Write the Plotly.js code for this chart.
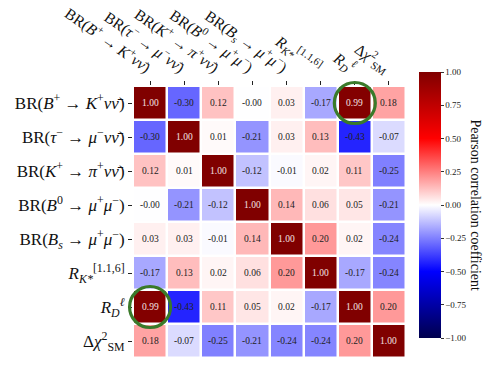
<!DOCTYPE html>
<html>
<head>
<meta charset="utf-8">
<script src="https://cdn.plot.ly/plotly-3.0.1.min.js"></script>
<style>
  html, body { margin: 0; padding: 0; background: #fff; }
  #chart { width: 486px; height: 380px; }
</style>
</head>
<body>
<div id="chart"></div>
<script>
// Observables, in matrix order
const observables = [
  'BR(<i>B</i><sup>+</sup> → <i>K</i><sup>+</sup><i>νν̄</i>)',
  'BR(<i>τ</i><sup>−</sup> → <i>μ</i><sup>−</sup><i>νν̄</i>)',
  'BR(<i>K</i><sup>+</sup> → <i>π</i><sup>+</sup><i>νν̄</i>)',
  'BR(<i>B</i><sup>0</sup> → <i>μ</i><sup>+</sup><i>μ</i><sup>−</sup>)',
  'BR(<i>B<sub>s</sub></i> → <i>μ</i><sup>+</sup><i>μ</i><sup>−</sup>)',
  '<i>R</i><sub><i>K*</i></sub><sup>[1.1,6]</sup>',
  '<i>R</i><sub><i>D</i></sub><sup><i>ℓ</i></sup>',
  'Δ<i>χ</i><sup>2</sup><sub>SM</sub>'
];

// Pearson correlation matrix, one row per observable
const rowBKnunu  = [ 1.00, -0.30,  0.12, -0.001, 0.03, -0.17,  0.99,  0.18];
const rowTauMu   = [-0.30,  1.00,  0.01, -0.21,  0.03,  0.13, -0.43, -0.07];
const rowKPinunu = [ 0.12,  0.01,  1.00, -0.12, -0.01,  0.02,  0.11, -0.25];
const rowB0mumu  = [-0.001,-0.21, -0.12,  1.00,  0.14,  0.06,  0.05, -0.21];
const rowBsmumu  = [ 0.03,  0.03, -0.01,  0.14,  1.00,  0.20,  0.02, -0.24];
const rowRKstar  = [-0.17,  0.13,  0.02,  0.06,  0.20,  1.00, -0.17, -0.24];
const rowRD      = [ 0.99, -0.43,  0.11,  0.05,  0.02, -0.17,  1.00,  0.20];
const rowDchi2   = [ 0.18, -0.07, -0.25, -0.21, -0.24, -0.24,  0.20,  1.00];

const corr = [rowBKnunu, rowTauMu, rowKPinunu, rowB0mumu, rowBsmumu, rowRKstar, rowRD, rowDchi2];

const cbTicks = [1.00, 0.75, 0.50, 0.25, 0.00, -0.25, -0.50, -0.75, -1.00];

const idx = observables.map((_, i) => i);
const n = observables.length;

// matplotlib "seismic"
const seismic = [
  [0.00, 'rgb(0,0,77)'],
  [0.25, 'rgb(0,0,255)'],
  [0.50, 'rgb(255,255,255)'],
  [0.75, 'rgb(255,0,0)'],
  [1.00, 'rgb(128,0,0)']
];

const serif = 'Liberation Serif, DejaVu Serif, serif';

const fmt = v => (v < 0 ? '-' : '') + Math.abs(v).toFixed(2);

// value labels inside every cell
const annotations = [];
corr.forEach((row, r) => row.forEach((v, c) => {
  annotations.push({
    x: c, y: r, xref: 'x', yref: 'y', text: fmt(v), showarrow: false,
    font: { family: serif, size: 9.5, color: v > 0.8 ? '#f4e4e4' : '#222' }
  });
}));

// colorbar label
annotations.push({
  xref: 'paper', yref: 'paper', x: 1.255, y: 0.5625, xanchor: 'center', yanchor: 'middle',
  text: 'Pearson correlation coefficient', textangle: 90, showarrow: false,
  font: { family: serif, size: 14, color: '#111' }
});

// ring the strongest off-diagonal correlation (both symmetric cells);
// paper-referenced so the rings may extend past the cell grid
let best = { r: 0, c: 1, v: -Infinity };
corr.forEach((row, r) => row.forEach((v, c) => {
  if (r !== c && Math.abs(v) > best.v) best = { r, c, v: Math.abs(v) };
}));
const ringR = 20.5;
const shapes = [[best.r, best.c], [best.c, best.r]].map(([r, c]) => ({
  type: 'circle', xref: 'paper', yref: 'paper',
  xsizemode: 'pixel', ysizemode: 'pixel',
  xanchor: (c + 0.5) / n, yanchor: 1 - (r + 0.5) / n,
  x0: -ringR, x1: ringR, y0: -ringR, y1: ringR,
  line: { color: 'rgb(58,122,42)', width: 3.2 }
}));

const trace = {
  type: 'heatmap',
  z: corr, x: idx, y: idx,
  zmin: -1, zmax: 1,
  colorscale: seismic,
  xgap: 2.5, ygap: 2.5,
  hoverinfo: 'skip',
  colorbar: {
    x: 1.048, xanchor: 'left', xpad: 0,
    y: 0.5625, yanchor: 'middle', len: 1.05, lenmode: 'fraction',
    thickness: 22, thicknessmode: 'pixels',
    outlinewidth: 0,
    tickvals: cbTicks, ticktext: cbTicks.map(v => (v < 0 ? '−' : '') + Math.abs(v).toFixed(2)),
    ticks: 'outside', ticklen: 3, tickcolor: '#333',
    tickfont: { family: serif, size: 9, color: '#222' }
  }
};

const layout = {
  width: 486, height: 380,
  margin: { l: 133, r: 80, t: 86, b: 22 },
  paper_bgcolor: '#fff', plot_bgcolor: '#fff',
  font: { family: serif, color: '#111' },
  xaxis: {
    side: 'top', range: [-0.5, n - 0.5],
    tickvals: idx, ticktext: observables, tickangle: 35,
    ticks: 'outside', ticklen: 4, tickcolor: '#222',
    tickfont: { family: serif, size: 15.5, color: '#111' },
    showgrid: false, zeroline: false, showline: false, fixedrange: true
  },
  yaxis: {
    range: [n - 0.5, -0.5],
    tickvals: idx, ticktext: observables,
    ticks: 'outside', ticklen: 4, tickcolor: '#222',
    tickfont: { family: serif, size: 17, color: '#111' },
    showgrid: false, zeroline: false, showline: false, fixedrange: true
  },
  annotations, shapes
};

Plotly.newPlot('chart', [trace], layout, { displayModeBar: false, staticPlot: true });
</script>
</body>
</html>
